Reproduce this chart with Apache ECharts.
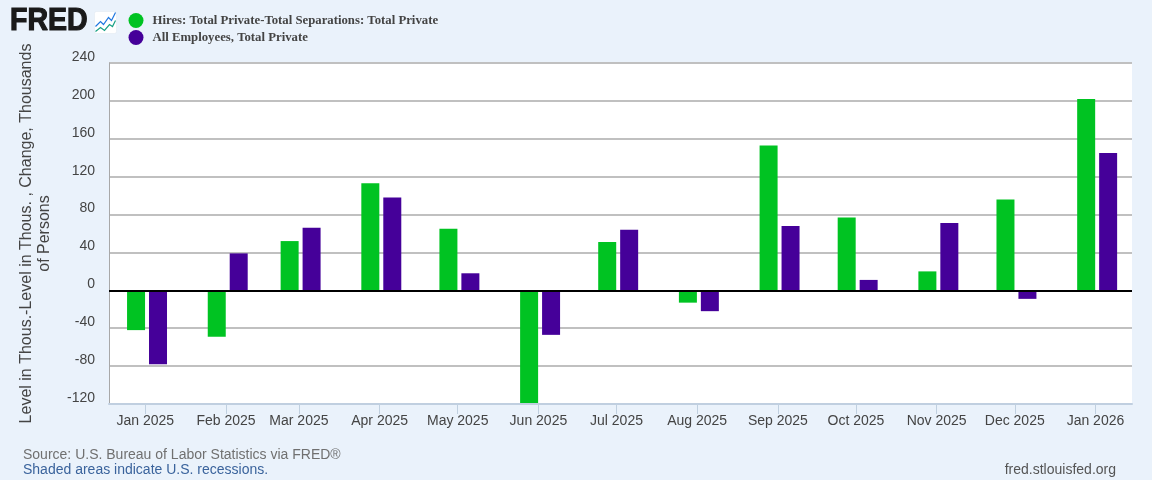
<!DOCTYPE html>
<html><head><meta charset="utf-8">
<style>html,body{margin:0;padding:0;background:#eaf2fb}#c{width:1152px;height:480px}</style>
<script src="https://cdn.jsdelivr.net/npm/echarts@6/dist/echarts.min.js"></script>
</head><body><div id="c"></div>
<script>
const dates = ['2025-01-01','2025-02-01','2025-03-01','2025-04-01','2025-05-01','2025-06-01','2025-07-01','2025-08-01','2025-09-01','2025-10-01','2025-11-01','2025-12-01','2026-01-01'];
const hires = [-42,-49,52,113,65,-119,51,-13,153,77,20,96,202];
const employees = [-78,39,66,98,18,-47,64,-22,68,11,71,-9,145];
const hiresName = 'Hires: Total Private-Total Separations: Total Private';
const employeesName = 'All Employees, Total Private';
const monthNames = ['Jan','Feb','Mar','Apr','May','Jun','Jul','Aug','Sep','Oct','Nov','Dec'];
const ts = d => Date.parse(d + 'T00:00:00Z');
const pair = (ys) => dates.map((d,i)=>[ts(d),ys[i]]);
const sans = '"Liberation Sans", Arial, sans-serif';
const chart = echarts.init(document.getElementById('c'), null, {renderer:'canvas'});
const tickVals = dates.map(d=>ts(d)-86400000*0.65);
const shift = 86400000*0.39;
chart.setOption({
  animation:false,
  backgroundColor:'#eaf2fb',
  grid:{left:109,right:20,top:63,height:341,backgroundColor:'#ffffff',show:true,borderWidth:0,containLabel:false},
  legend:{
    left:123.5,top:8,orient:'vertical',itemWidth:15,itemHeight:15,itemGap:2,icon:'circle',
    selectedMode:false,
    textStyle:{fontFamily:'"Liberation Serif", serif',fontWeight:'bold',fontSize:12.75,color:'#444444',padding:[2,0,0,4]},
    data:[hiresName,employeesName]
  },
  xAxis:{
    type:'value',
    scale:true,
    min:ts('2024-12-17')+shift,
    max:ts('2026-01-14')+shift,
    position:'bottom',
    axisLine:{onZero:false,show:true,lineStyle:{color:'#c0cfe0',width:2}},
    axisTick:{show:true,length:10,customValues:tickVals,lineStyle:{color:'#c0d0e0',width:1}},
    axisLabel:{
      show:true,customValues:tickVals,hideOverlap:false,showMinLabel:true,showMaxLabel:true,
      fontFamily:sans,fontSize:14,color:'#444444',margin:10,
      formatter:(v)=>{const t=new Date(v+86400000);return monthNames[t.getUTCMonth()]+' '+t.getUTCFullYear();}
    },
    splitLine:{show:false}
  },
  yAxis:{
    type:'value',min:-120,max:240,interval:40,
    name:'Level in Thous.-Level in Thous. , Change, Thousands\nof Persons',
    nameLocation:'middle',nameGap:55,nameRotate:90,
    nameTextStyle:{fontFamily:sans,fontSize:16,color:'#444444',lineHeight:18},
    axisLine:{show:true,lineStyle:{color:'#a8a8a8',width:1}},
    axisTick:{show:false},
    axisLabel:{fontFamily:sans,fontSize:14,color:'#444444',margin:14,verticalAlign:'bottom',lineHeight:12,
      formatter:(v)=>String(v)},
    splitLine:{show:true,lineStyle:{color:'#c0c0c0',width:2}}
  },
  series:[
    {name:hiresName,type:'bar',data:pair(hires),barWidth:18,barGap:'22%',itemStyle:{color:'#00c322'},
     markLine:{silent:true,symbol:'none',label:{show:false},lineStyle:{color:'#000000',width:2,type:'solid'},data:[{yAxis:0}],z:10}},
    {name:employeesName,type:'bar',data:pair(employees),barWidth:18,barGap:'22%',itemStyle:{color:'#450099'}}
  ],
  graphic:[
    {type:'text',x:10,y:21,scaleX:0.92,style:{text:'FRED',fontFamily:sans,fontWeight:'bold',fontSize:31,fill:'#1a1a1a',stroke:'#1a1a1a',lineWidth:1.2,verticalAlign:'middle'}},
    {type:'group',left:93,top:10,children:[
      {type:'rect',shape:{x:0,y:0,width:22,height:22,r:2},style:{fill:'#ffffff',stroke:'#dfe6ee',lineWidth:0.5}},
      {type:'polyline',shape:{points:[[1,15],[6,10],[9,13],[14,6],[17,9],[21,1]]},style:{stroke:'#1f77e0',fill:null,lineWidth:1.2}},
      {type:'polyline',shape:{points:[[1,20],[6,16],[10,19],[15,13],[18,15],[21,9]]},style:{stroke:'#16a085',fill:null,lineWidth:1.2}}
    ]},
    {type:'text',left:23,top:448,style:{text:'Source: U.S. Bureau of Labor Statistics via FRED®',fontFamily:sans,fontSize:14,fill:'#707070'}},
    {type:'text',left:23,top:463,style:{text:'Shaded areas indicate U.S. recessions.',fontFamily:sans,fontSize:14,fill:'#3a639c'}},
    {type:'text',right:36,top:463,style:{text:'fred.stlouisfed.org',fontFamily:sans,fontSize:14,fill:'#555555'}}
  ]
});
</script></body></html>
